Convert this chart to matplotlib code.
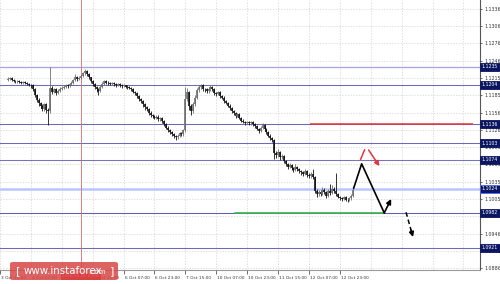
import matplotlib
matplotlib.use("Agg")
import matplotlib.pyplot as plt
from matplotlib.patches import FancyBboxPatch
import matplotlib.transforms as mtransforms

# ---------------- data (prices in pips above 1.1000) ----------------
first_open = 212
closes = [214, 216, 213, 211, 210, 211, 209, 208, 209, 207, 206, 204, 203,
          196, 186, 178, 172, 168, 162, 170, 160, 158, 198,
          192, 196, 190, 194, 197, 199, 200, 203, 202, 205, 208, 212,
          218, 214, 216, 219, 224, 228, 222, 217, 210, 205, 200, 196, 193,
          200, 206, 210, 208, 207, 206, 207, 205, 204, 205, 203, 202, 203, 201, 200, 199,
          196, 192, 189, 185, 180, 176, 170, 165, 162, 156, 152,
          150, 147, 149, 144, 146, 141, 136, 130, 126, 122, 118, 115, 113,
          116, 120, 118, 125, 180, 192, 168, 158, 170, 182, 195,
          200, 204, 196, 196, 193, 197, 201, 196, 190, 188, 192,
          185, 182, 176, 173, 168, 163, 158, 155, 150, 153, 147,
          142, 140, 138, 139, 137, 139, 136, 133, 128, 124, 130, 134, 127,
          122, 116, 112, 108, 85, 82, 88, 78, 80,
          72, 66, 62, 65, 60, 57, 62, 58, 55, 52, 50, 54, 48,
          46, 50, 44, 20, 14, 18, 15, 22, 18, 12, 20, 16, 24, 19, 14,
          10, 8, 6, 9, 5, 4, 7, 12, 22]
highs = [217, 218, 217, 215, 213, 213, 212, 211, 211, 210, 209, 208, 206,
         205, 198, 188, 181, 175, 170, 173, 172, 163, 235,
         202, 199, 198, 197, 200, 202, 203, 206, 205, 208, 211, 215,
         222, 220, 219, 222, 227, 231, 229, 224, 218, 212, 207, 202, 198,
         203, 209, 213, 212, 210, 209, 209, 209, 207, 207, 207, 205, 205, 204, 203, 202,
         201, 198, 194, 191, 187, 182, 178, 172, 167, 164, 158,
         154, 152, 151, 151, 148, 148, 143, 138, 132, 128, 124, 120, 117,
         119, 122, 123, 128, 200, 198, 194, 170, 174, 186, 199,
         203, 206, 205, 199, 198, 200, 204, 202, 198, 192, 194,
         193, 187, 184, 178, 175, 170, 165, 160, 157, 155, 155,
         149, 144, 142, 141, 141, 141, 141, 138, 135, 130, 132, 137, 136,
         129, 124, 118, 114, 110, 90, 92, 90, 84,
         82, 74, 68, 68, 67, 62, 66, 64, 60, 57, 55, 58, 56,
         51, 53, 58, 46, 23, 22, 21, 26, 25, 20, 24, 32, 30, 26, 51,
         16, 12, 10, 12, 11, 8, 10, 15, 26]
lows = [210, 212, 211, 209, 208, 207, 207, 206, 205, 205, 203, 202, 199,
        193, 183, 174, 168, 164, 158, 159, 156, 134, 155,
        188, 189, 186, 188, 192, 195, 197, 198, 199, 200, 203, 206,
        210, 211, 212, 214, 217, 221, 219, 214, 207, 202, 197, 192, 186,
        191, 198, 204, 205, 204, 203, 204, 202, 201, 202, 200, 199, 200, 198, 197, 196,
        193, 189, 186, 182, 176, 172, 166, 161, 158, 152, 148,
        146, 144, 144, 141, 141, 138, 133, 127, 123, 119, 115, 111, 108,
        110, 113, 115, 116, 123, 176, 160, 152, 155, 167, 179,
        192, 197, 193, 192, 190, 190, 194, 193, 187, 185, 186,
        182, 179, 173, 170, 165, 160, 155, 152, 147, 148, 144,
        139, 137, 135, 136, 134, 135, 133, 130, 125, 121, 122, 128, 124,
        119, 113, 109, 104, 76, 77, 79, 74, 75,
        69, 63, 58, 59, 57, 53, 55, 55, 51, 48, 46, 48, 45,
        42, 43, 40, 16, 10, 11, 12, 13, 15, 8, 10, 13, 14, 16, 11,
        7, 5, 3, 4, 2, 1, 2, 5, 10]

level_prices = [1.1235, 1.1204, 1.1136, 1.1103, 1.1074, 1.1024, 1.0982, 1.0921]
level_colors = ['#a9a9dc', '#6a6ab8', '#6a6ab8', '#6a6ab8', '#7474c0', '#b8c6ff', '#5e5eb2', '#6a6ab8']
level_widths = [1.0, 0.75, 0.75, 0.75, 0.75, 1.8, 0.75, 0.75]

ytick_values = [1.1336, 1.1306, 1.1276, 1.1246, 1.1216, 1.1186, 1.1156, 1.1126,
                1.1096, 1.1066, 1.1036, 1.1006, 1.0976, 1.0946, 1.0916, 1.0886]
ytick_labels = ['1.1336', '1.1306', '1.1276', '1.1246', '1.1215', '1.1185', '1.1156', '1.1126',
                '1.1095', '1.1065', '1.1035', '1.1005', '1.0976', '1.0946', '1.0916', '1.0886']

xtick_bars = [-4, 12, 28, 44, 60, 76, 92, 108, 124, 140, 156, 172]
xtick_labels = ['3 Oct 15:00', '4 Oct 07:00', '4 Oct 23:00', '5 Oct 15:00', '6 Oct 07:00',
                '6 Oct 23:00', '7 Oct 15:00', '10 Oct 07:00', '10 Oct 23:00',
                '11 Oct 15:00', '12 Oct 07:00', '12 Oct 23:00']
xgrid_bars = xtick_bars + [188, 204, 220, 236]

cursor_bar = 38
cursor_label = '2016.10.05 09:00'

# forecast path (bar, price)
forecast_x = [179.2, 183.3, 195.0]
forecast_y = [1.1025, 1.1067, 1.0982]
forecast_arrow = [(195.0, 1.0982), (198.6, 1.1006)]
alt_dashed = [(206.3, 1.0983), (209.9, 1.0940)]
red_seg = [(182.8, 1.1075), (184.8, 1.1091)]
red_arrow = [(186.9, 1.1091), (192.5, 1.1063)]
green_span = (117.8, 195.0, 1.0982)
red_level = (156.7, 1.1136)

# ---------------- figure ----------------
W, H = 500, 284
fig = plt.figure(figsize=(W / 100, H / 100), dpi=100)
fig.patch.set_facecolor('white')
ax = fig.add_axes([0, 14 / H, 480 / W, 270 / H])
ax.set_facecolor('white')

xmin, xmax = -0.767, 244.6
ymin, ymax = 1.08828, 1.13512
ax.set_xlim(xmin, xmax)
ax.set_ylim(ymin, ymax)

# grid
for yv in ytick_values:
    ax.axhline(yv, color='#d2d2d2', lw=0.5, ls=(0, (2, 2)), zorder=0)
for xb in xgrid_bars:
    ax.axvline(xb, color='#d2d2d2', lw=0.5, ls=(0, (2, 2)), zorder=0)

# levels
for p, c, w in zip(level_prices, level_colors, level_widths):
    ax.axhline(p, color=c, lw=w, zorder=1)

# vertical cursor line
ax.axvline(cursor_bar, color='#e06868', lw=0.6, zorder=1)

# candles
opens = [first_open] + closes[:-1]
for i, (o, c, h, l) in enumerate(zip(opens, closes, highs, lows)):
    o_, c_, h_, l_ = [1.1 + v / 10000 for v in (o, c, h, l)]
    col = '#6e6e6e' if c > o else '#111111'
    ax.vlines(i, l_, h_, color=col, lw=0.6, zorder=3)
    lo, hi = min(o_, c_), max(o_, c_)
    if hi - lo < 0.00006:
        hi = lo + 0.00006
    ax.vlines(i, lo, hi, color=col, lw=1.2, zorder=3)

# red resistance level, green support
ax.plot([red_level[0], xmax - 3.5], [red_level[1]] * 2, color='#e8333a', lw=1.1, zorder=4,
        solid_capstyle='butt')
ax.plot([green_span[0], green_span[1]], [green_span[2]] * 2, color='#3cb44b', lw=1.2, zorder=4)

# forecast black path
ax.plot(forecast_x, forecast_y, color='black', lw=1.2, zorder=5)
ax.annotate('', xy=forecast_arrow[1], xytext=forecast_arrow[0],
            arrowprops=dict(arrowstyle='-|>', color='black', lw=1.2, mutation_scale=7,
                            shrinkA=0, shrinkB=0), zorder=5)
# alternative dashed
(x0, y0), (x1, y1) = alt_dashed
ax.plot([x0, x0 + (x1 - x0) * 0.75], [y0, y0 + (y1 - y0) * 0.75], color='black', lw=1.1,
        ls=(0, (3, 2)), zorder=5)
ax.annotate('', xy=(x1, y1), xytext=(x0 + (x1 - x0) * 0.72, y0 + (y1 - y0) * 0.72),
            arrowprops=dict(arrowstyle='-|>', color='black', lw=1.1, mutation_scale=7,
                            shrinkA=0, shrinkB=0), zorder=5)
# red markers
ax.plot([red_seg[0][0], red_seg[1][0]], [red_seg[0][1], red_seg[1][1]], color='#e8333a', lw=1.1, zorder=5)
ax.annotate('', xy=red_arrow[1], xytext=red_arrow[0],
            arrowprops=dict(arrowstyle='-|>', color='#e8333a', lw=1.1, mutation_scale=7,
                            shrinkA=0, shrinkB=0), zorder=5)

# spines and ticks
for s in ['left', 'top']:
    ax.spines[s].set_visible(False)
ax.spines['right'].set_color('#555555')
ax.spines['right'].set_linewidth(0.8)
ax.spines['bottom'].set_color('#999999')
ax.spines['bottom'].set_linewidth(0.8)

ax.yaxis.tick_right()
ax.set_yticks(ytick_values)
ax.set_yticklabels(ytick_labels)
ax.tick_params(axis='y', length=1.5, width=0.5, pad=1.5, labelsize=3.4, colors='#333333')
for lab in ax.get_yticklabels():
    lab.set_horizontalalignment('left')

ax.set_xticks(xtick_bars)
ax.set_xticklabels(xtick_labels)
ax.tick_params(axis='x', length=3, width=0.5, pad=1.5, labelsize=3.1, colors='#333333',
               direction='out')
offset = mtransforms.ScaledTranslation(1.0 / 100, 0, fig.dpi_scale_trans)
for lab in ax.get_xticklabels():
    lab.set_horizontalalignment('left')
    lab.set_transform(lab.get_transform() + offset)

# price level boxes on axis
bt = mtransforms.blended_transform_factory(ax.transAxes, ax.transData)
for p in level_prices:
    ec = '#4a6cff' if abs(p - 1.1024) < 1e-6 else '#0c1660'
    ax.text(1.004, p, f'{p:.4f}', transform=bt, fontsize=3.3, color='white',
            ha='left', va='center', zorder=10, clip_on=False,
            bbox=dict(boxstyle='square,pad=0.35', fc='#0c1660', ec=ec, lw=0.6))

# cursor time label
ax.text(cursor_bar, -0.016, cursor_label,
        transform=mtransforms.blended_transform_factory(ax.transData, ax.transAxes),
        fontsize=3.1, color='white', ha='center', va='top', clip_on=False, zorder=10,
        bbox=dict(boxstyle='square,pad=0.35', fc='#e0202a', ec='none'))

# watermark
wm = FancyBboxPatch((10 / W, 4 / H), 108 / W, 18 / H, boxstyle='round,pad=0,rounding_size=0.006',
                    transform=fig.transFigure, fc='#d84848', ec='none', alpha=0.85, zorder=20)
fig.patches.append(wm)
fig.text(16 / W, 13 / H, '[', color='white', fontsize=8, va='center', ha='left', zorder=21)
fig.text(24 / W, 13 / H, 'www.instaforex', color='white', fontsize=7.4, va='center', ha='left', zorder=21)
fig.text(88 / W, 12.5 / H, '.com', color='white', fontsize=5.2, va='center', ha='left', zorder=21)
fig.text(110 / W, 13 / H, ']', color='white', fontsize=8, va='center', ha='left', zorder=21)

fig.savefig('out.png', dpi=100, facecolor='white')
